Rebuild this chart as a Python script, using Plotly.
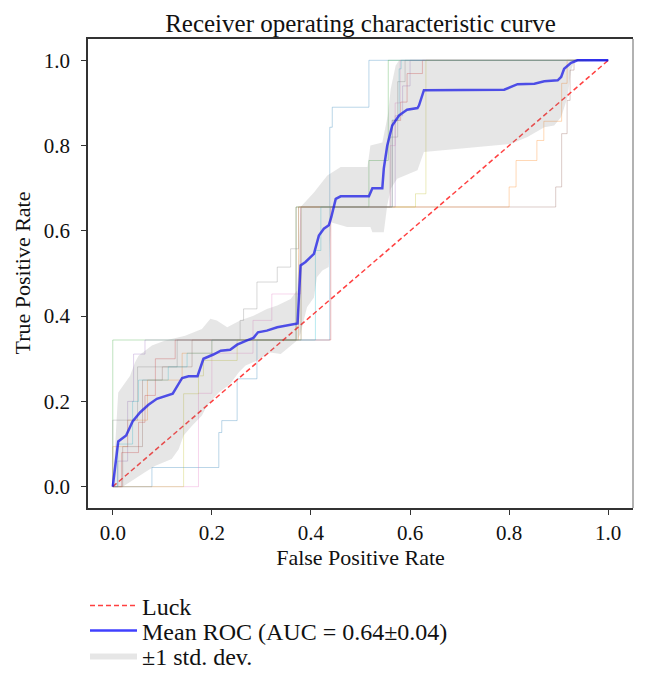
import plotly.graph_objects as go

# ---------------- data ----------------
fold_colors = ["#1f77b4", "#ff7f0e", "#2ca02c", "#d62728", "#9467bd",
               "#8c564b", "#e377c2", "#7f7f7f", "#bcbd22", "#17becf"]

fold_fpr = [
    [0, 0.079, 0.214, 0.22, 0.251, 0.291, 0.438, 0.443, 0.517, 1.0],
    [0, 0, 0.03, 0.07, 0.14, 0.2, 0.375, 0.80, 0.814, 0.856, 0.87, 0.906, 0.917, 1.0],
    [0, 0, 0.37, 0.517, 0.556, 1.0],
    [0, 0.018, 0.052, 0.065, 0.086, 0.126, 0.44, 0.564, 0.581, 0.594, 0.625, 1.0],
    [0, 0.01, 0.03, 0.042, 0.065, 0.38, 0.57, 0.585, 0.6, 1.0],
    [0, 0.02, 0.06, 0.1, 0.16, 0.37, 0.894, 0.906, 0.917, 0.923, 0.931, 1.0],
    [0, 0.173, 0.2, 0.283, 0.321, 0.379, 0.56, 0.57, 0.58, 1.0],
    [0, 0, 0.05, 0.13, 0.257, 0.264, 0.291, 0.332, 0.359, 0.375, 0.56, 0.575, 0.59, 1.0],
    [0, 0.143, 0.173, 0.183, 0.251, 0.38, 0.611, 0.632, 1.0],
    [0, 0.01, 0.04, 0.052, 0.112, 0.15, 0.2, 0.409, 0.42, 0.564, 0.578, 0.582, 1.0],
]
fold_tpr = [
    [0, 0.045, 0.127, 0.155, 0.253, 0.344, 0.843, 0.89, 1.0, 1.0],
    [0, 0.094, 0.156, 0.25, 0.313, 0.344, 0.656, 0.703, 0.765, 0.812, 0.857, 0.946, 1.0, 1.0],
    [0, 0.344, 0.656, 0.765, 1.0, 1.0],
    [0, 0.08, 0.151, 0.214, 0.30, 0.344, 0.656, 0.859, 0.902, 0.969, 1.0, 1.0],
    [0, 0.06, 0.2, 0.311, 0.344, 0.656, 0.87, 0.94, 1.0, 1.0],
    [0, 0.094, 0.25, 0.281, 0.344, 0.656, 0.703, 0.828, 0.906, 0.977, 1.0, 1.0],
    [0, 0.219, 0.313, 0.39, 0.452, 0.656, 0.8, 0.9, 1.0, 1.0],
    [0, 0.156, 0.281, 0.344, 0.39, 0.417, 0.48, 0.515, 0.558, 0.656, 0.82, 0.95, 1.0, 1.0],
    [0, 0.218, 0.26, 0.296, 0.344, 0.656, 0.687, 1.0, 1.0],
    [0, 0.1, 0.2, 0.25, 0.281, 0.313, 0.344, 0.554, 0.656, 0.86, 0.98, 1.0, 1.0],
]

mean_fpr = [0, 0.011, 0.027, 0.04, 0.055, 0.072, 0.089, 0.109, 0.121, 0.14, 0.153,
            0.171, 0.183, 0.203, 0.218, 0.237, 0.251, 0.271, 0.284, 0.293, 0.311,
            0.332, 0.359, 0.373, 0.379, 0.389, 0.406, 0.416, 0.426, 0.436, 0.441,
            0.45, 0.46, 0.517, 0.524, 0.544, 0.547, 0.554, 0.564, 0.578, 0.594,
            0.615, 0.618, 0.628, 0.79, 0.803, 0.817, 0.851, 0.871, 0.898, 0.905,
            0.911, 0.925, 0.938, 1.0]
mean_tpr = [0, 0.106, 0.12, 0.153, 0.174, 0.192, 0.206, 0.214, 0.218, 0.255, 0.259,
            0.259, 0.30, 0.31, 0.319, 0.321, 0.333, 0.343, 0.349, 0.362, 0.366,
            0.374, 0.38, 0.383, 0.519, 0.527, 0.546, 0.589, 0.605, 0.613, 0.632,
            0.675, 0.681, 0.681, 0.70, 0.70, 0.746, 0.80, 0.847, 0.871, 0.884,
            0.888, 0.894, 0.93, 0.931, 0.937, 0.944, 0.945, 0.951, 0.953, 0.961,
            0.98, 0.994, 1.0, 1.0]

upper_fpr = [0, 0.011, 0.035, 0.045, 0.052, 0.079, 0.106, 0.146, 0.18, 0.197, 0.21,
             0.231, 0.257, 0.284, 0.311, 0.332, 0.359, 0.372, 0.376, 0.379, 0.406,
             0.433, 0.46, 0.514, 0.52, 0.544, 0.555, 0.561, 0.571, 0.578, 1.0]
upper_tpr = [0, 0.221, 0.26, 0.292, 0.307, 0.331, 0.343, 0.354, 0.37, 0.394, 0.39,
             0.374, 0.39, 0.401, 0.417, 0.425, 0.44, 0.46, 0.56, 0.656, 0.69,
             0.73, 0.75, 0.75, 0.80, 0.807, 0.87, 0.933, 0.988, 1.0, 1.0]

lower_fpr = [0, 0.02, 0.035, 0.065, 0.086, 0.119, 0.133, 0.143, 0.16, 0.18, 0.19,
             0.214, 0.237, 0.254, 0.268, 0.291, 0.318, 0.339, 0.372, 0.379, 0.392,
             0.406, 0.412, 0.423, 0.436, 0.44, 0.473, 0.52, 0.524, 0.547, 0.554,
             0.561, 0.574, 0.615, 0.628, 0.682, 0.803, 0.837, 0.871, 0.891, 0.905,
             0.918, 0.925, 0.931, 1.0]
lower_tpr = [0, 0, 0.01, 0.034, 0.049, 0.065, 0.088, 0.12, 0.143, 0.167, 0.19,
             0.221, 0.241, 0.268, 0.284, 0.296, 0.315, 0.311, 0.343, 0.359, 0.421,
             0.444, 0.491, 0.507, 0.515, 0.62, 0.609, 0.609, 0.597, 0.597, 0.66,
             0.699, 0.722, 0.742, 0.785, 0.792, 0.804, 0.82, 0.843, 0.847, 0.867,
             0.914, 0.977, 0.996, 1.0]

luck_x = [0, 1]
luck_y = [0, 1]

x_ticks = [0.0, 0.2, 0.4, 0.6, 0.8, 1.0]
y_ticks = [0.0, 0.2, 0.4, 0.6, 0.8, 1.0]

title_text = "Receiver operating characteristic curve"
x_title = "False Positive Rate"
y_title = "True Positive Rate"
luck_label = "Luck"
mean_label = "Mean ROC (AUC = 0.64±0.04)"
std_label = "±1 std. dev."

# ---------------- figure ----------------
def rgba(hexc, a):
    h = hexc.lstrip("#")
    r, g, b = int(h[0:2], 16), int(h[2:4], 16), int(h[4:6], 16)
    return f"rgba({r},{g},{b},{a})"

FONT = "Liberation Serif"
W, H = 650, 684
ML, MR, MT, MB = 88, 17, 39, 176
PW = W - ML - MR

fig = go.Figure()

for c, fx, fy in zip(fold_colors, fold_fpr, fold_tpr):
    fig.add_trace(go.Scatter(x=fx, y=fy, mode="lines", line_shape="hv",
                             line=dict(color=rgba(c, 0.3), width=1),
                             showlegend=False, hoverinfo="skip"))

fig.add_trace(go.Scatter(x=luck_x, y=luck_y, mode="lines", name=luck_label,
                         legend="legend",
                         line=dict(color="rgba(255,0,0,0.75)", width=1.5, dash="5px,3px")))

fig.add_trace(go.Scatter(x=mean_fpr, y=mean_tpr, mode="lines", name=mean_label,
                         legend="legend2",
                         line=dict(color="rgba(0,0,255,0.75)", width=2.5)))

band_x = list(upper_fpr) + list(reversed(lower_fpr))
band_y = list(upper_tpr) + list(reversed(lower_tpr))
fig.add_trace(go.Scatter(x=band_x, y=band_y, mode="lines", fill="toself",
                         fillcolor="rgba(128,128,128,0.2)", line=dict(width=0),
                         name=std_label, legend="legend3"))

axis_common = dict(showgrid=False, zeroline=False, showline=True, linecolor="#333333",
                   linewidth=1.5, ticks="outside", ticklen=5, tickwidth=1.2,
                   tickcolor="#333333", automargin=False,
                   tickfont=dict(family=FONT, size=21, color="#111"))

def leg(ypx):
    return dict(xref="container", yref="container",
                x=(ML - 3) / W, y=1 - ypx / H, xanchor="left", yanchor="middle",
                font=dict(family=FONT, size=24, color="#111"),
                bgcolor="rgba(0,0,0,0)", itemwidth=47)

fig.update_layout(
    width=W, height=H,
    margin=dict(l=ML, r=MR, t=MT, b=MB, autoexpand=False),
    paper_bgcolor="white", plot_bgcolor="white",
    title=dict(text=title_text, xref="paper", x=0.5, xanchor="center",
               y=1 - 23 / H, yanchor="middle",
               font=dict(family=FONT, size=25, color="#111")),
    xaxis=dict(range=[-0.05, 1.05], tickvals=x_ticks, ticktext=[f"{v:.1f}" for v in x_ticks],
               mirror=True, ticklabelstandoff=0,
               title=dict(text=x_title, font=dict(family=FONT, size=22, color="#111"), standoff=4),
               **axis_common),
    yaxis=dict(range=[-0.05, 1.05], tickvals=y_ticks, ticktext=[f"{v:.1f}" for v in y_ticks],
               mirror=False, ticklabelstandoff=7,
               **axis_common),
    legend=leg(606),
    legend2=leg(631),
    legend3=leg(656),
    annotations=[dict(text=y_title, xref="paper", yref="paper",
                      x=(22 - ML) / PW, y=0.5, xanchor="center", yanchor="middle",
                      textangle=-90, showarrow=False,
                      font=dict(family=FONT, size=22, color="#111"))],
    shapes=[dict(type="line", xref="paper", yref="paper", x0=1, x1=1, y0=0, y1=1,
                 line=dict(color="#999999", width=1.5))],
)

fig.write_html("out.html", config={"displayModeBar": False},
               post_script="document.body.style.margin='0px';document.body.style.overflow='hidden';")
